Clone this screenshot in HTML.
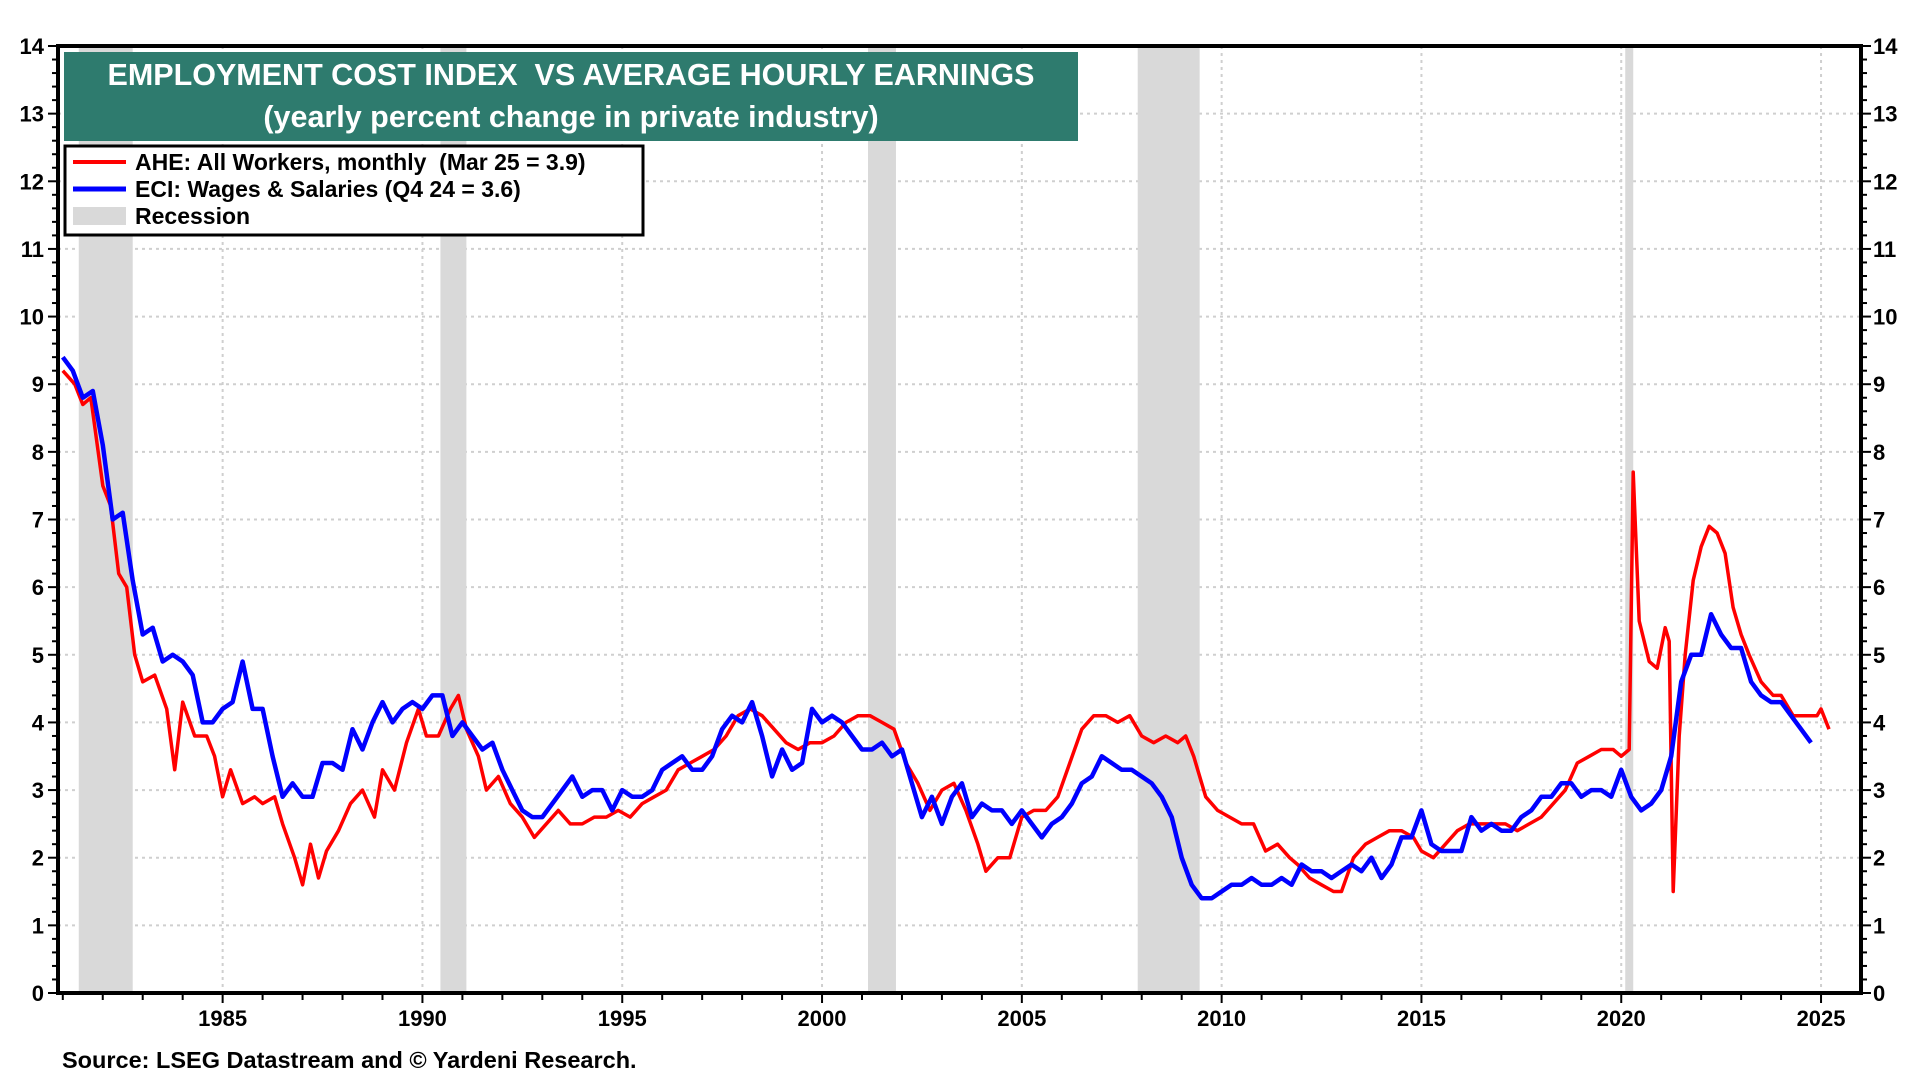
<!DOCTYPE html>
<html><head><meta charset="utf-8"><style>
html,body{margin:0;padding:0;background:#fff;}
svg{display:block;font-family:"Liberation Sans",Arial,sans-serif;}
</style></head><body>
<svg id="chart" width="1920" height="1080" viewBox="0 0 1920 1080">
<g id="grid"></g>
<g id="rec"></g>
<g id="series"></g>
<g id="axes"></g>
<g>
<rect x="64" y="52" width="1014" height="89" fill="#2e7b6e"/>
<text x="571" y="85" text-anchor="middle" font-size="30.5" font-weight="bold" fill="#fff" style="white-space:pre">EMPLOYMENT COST INDEX  VS AVERAGE HOURLY EARNINGS</text>
<text x="571" y="127" text-anchor="middle" font-size="30.5" font-weight="bold" fill="#fff">(yearly percent change in private industry)</text>
</g>
<g>
<rect x="65" y="146" width="578" height="89" fill="#fff" stroke="#000" stroke-width="3"/>
<g><line x1="73" y1="162" x2="126" y2="162" stroke="#f00" stroke-width="4"/><text x="135" y="170" font-size="23" font-weight="bold" style="white-space:pre">AHE: All Workers, monthly  (Mar 25 = 3.9)</text></g>
<g><line x1="73" y1="189" x2="126" y2="189" stroke="#00f" stroke-width="5"/><text x="135" y="197" font-size="23" font-weight="bold">ECI: Wages &amp; Salaries (Q4 24 = 3.6)</text></g>
<g><rect x="73" y="207" width="53" height="18" fill="#d9d9d9"/><text x="135" y="224" font-size="23" font-weight="bold">Recession</text></g>
</g>
<text x="62" y="1068" font-size="23.5" font-weight="bold">Source: LSEG Datastream and © Yardeni Research.</text>
</svg>
<script>
const recessions=[[1981.4,1982.75],[1990.45,1991.1],[2001.15,2001.85],[2007.9,2009.45],[2020.1,2020.3]];
const yTicks=[0,1,2,3,4,5,6,7,8,9,10,11,12,13,14];
const xTicks=[1985,1990,1995,2000,2005,2010,2015,2020,2025];
const aheX=[1981.0,1981.3,1981.5,1981.7,1982.0,1982.2,1982.4,1982.6,1982.8,1983.0,1983.3,1983.6,1983.8,1984.0,1984.3,1984.6,1984.8,1985.0,1985.2,1985.5,1985.8,1986.0,1986.3,1986.5,1986.8,1987.0,1987.2,1987.4,1987.6,1987.9,1988.2,1988.5,1988.8,1989.0,1989.3,1989.6,1989.9,1990.1,1990.4,1990.7,1990.9,1991.1,1991.4,1991.6,1991.9,1992.2,1992.5,1992.8,1993.1,1993.4,1993.7,1994.0,1994.3,1994.6,1994.9,1995.2,1995.5,1995.8,1996.1,1996.4,1996.7,1997.0,1997.3,1997.6,1997.9,1998.2,1998.5,1998.8,1999.1,1999.4,1999.7,2000.0,2000.3,2000.6,2000.9,2001.2,2001.5,2001.8,2002.1,2002.4,2002.7,2003.0,2003.3,2003.6,2003.9,2004.1,2004.4,2004.7,2005.0,2005.3,2005.6,2005.9,2006.2,2006.5,2006.8,2007.1,2007.4,2007.7,2008.0,2008.3,2008.6,2008.9,2009.1,2009.3,2009.6,2009.9,2010.2,2010.5,2010.8,2011.1,2011.4,2011.7,2011.9,2012.2,2012.5,2012.8,2013.0,2013.3,2013.6,2013.9,2014.2,2014.5,2014.8,2015.0,2015.3,2015.6,2015.9,2016.2,2016.5,2016.8,2017.1,2017.4,2017.7,2018.0,2018.3,2018.6,2018.9,2019.2,2019.5,2019.8,2020.0,2020.2,2020.3,2020.45,2020.7,2020.9,2021.1,2021.2,2021.3,2021.45,2021.6,2021.8,2022.0,2022.2,2022.4,2022.6,2022.8,2023.0,2023.2,2023.5,2023.8,2024.0,2024.3,2024.6,2024.9,2025.0,2025.2];
const aheY=[9.2,9.0,8.7,8.8,7.5,7.2,6.2,6.0,5.0,4.6,4.7,4.2,3.3,4.3,3.8,3.8,3.5,2.9,3.3,2.8,2.9,2.8,2.9,2.5,2.0,1.6,2.2,1.7,2.1,2.4,2.8,3.0,2.6,3.3,3.0,3.7,4.2,3.8,3.8,4.2,4.4,3.9,3.5,3.0,3.2,2.8,2.6,2.3,2.5,2.7,2.5,2.5,2.6,2.6,2.7,2.6,2.8,2.9,3.0,3.3,3.4,3.5,3.6,3.8,4.1,4.2,4.1,3.9,3.7,3.6,3.7,3.7,3.8,4.0,4.1,4.1,4.0,3.9,3.4,3.1,2.7,3.0,3.1,2.7,2.2,1.8,2.0,2.0,2.6,2.7,2.7,2.9,3.4,3.9,4.1,4.1,4.0,4.1,3.8,3.7,3.8,3.7,3.8,3.5,2.9,2.7,2.6,2.5,2.5,2.1,2.2,2.0,1.9,1.7,1.6,1.5,1.5,2.0,2.2,2.3,2.4,2.4,2.3,2.1,2.0,2.2,2.4,2.5,2.5,2.5,2.5,2.4,2.5,2.6,2.8,3.0,3.4,3.5,3.6,3.6,3.5,3.6,7.7,5.5,4.9,4.8,5.4,5.2,1.5,3.8,5.0,6.1,6.6,6.9,6.8,6.5,5.7,5.3,5.0,4.6,4.4,4.4,4.1,4.1,4.1,4.2,3.9];
const eciStart=1981.0;
const eciY=[9.4,9.2,8.8,8.9,8.1,7.0,7.1,6.1,5.3,5.4,4.9,5.0,4.9,4.7,4.0,4.0,4.2,4.3,4.9,4.2,4.2,3.5,2.9,3.1,2.9,2.9,3.4,3.4,3.3,3.9,3.6,4.0,4.3,4.0,4.2,4.3,4.2,4.4,4.4,3.8,4.0,3.8,3.6,3.7,3.3,3.0,2.7,2.6,2.6,2.8,3.0,3.2,2.9,3.0,3.0,2.7,3.0,2.9,2.9,3.0,3.3,3.4,3.5,3.3,3.3,3.5,3.9,4.1,4.0,4.3,3.8,3.2,3.6,3.3,3.4,4.2,4.0,4.1,4.0,3.8,3.6,3.6,3.7,3.5,3.6,3.1,2.6,2.9,2.5,2.9,3.1,2.6,2.8,2.7,2.7,2.5,2.7,2.5,2.3,2.5,2.6,2.8,3.1,3.2,3.5,3.4,3.3,3.3,3.2,3.1,2.9,2.6,2.0,1.6,1.4,1.4,1.5,1.6,1.6,1.7,1.6,1.6,1.7,1.6,1.9,1.8,1.8,1.7,1.8,1.9,1.8,2.0,1.7,1.9,2.3,2.3,2.7,2.2,2.1,2.1,2.1,2.6,2.4,2.5,2.4,2.4,2.6,2.7,2.9,2.9,3.1,3.1,2.9,3.0,3.0,2.9,3.3,2.9,2.7,2.8,3.0,3.5,4.6,5.0,5.0,5.6,5.3,5.1,5.1,4.6,4.4,4.3,4.3,4.1,3.9,3.7];

const L=58,R=1861,T=46,B=993,X0=1980.88,X1=2026.0,YMAX=14;
const sx=v=>L+(v-X0)/(X1-X0)*(R-L);
const sy=v=>B-v/YMAX*(B-T);
const NS='http://www.w3.org/2000/svg';
function mk(tag,attrs,parent){const e=document.createElementNS(NS,tag);for(const k in attrs)e.setAttribute(k,attrs[k]);parent.appendChild(e);return e;}
const grid=document.getElementById('grid'),rec=document.getElementById('rec'),ser=document.getElementById('series'),ax=document.getElementById('axes');
yTicks.forEach(v=>{if(v>0&&v<YMAX){const l=mk('line',{x1:L,x2:R,y1:sy(v),y2:sy(v),stroke:'#cfcfcf','stroke-width':2,'stroke-dasharray':'3,4'},grid);

}});
xTicks.forEach(v=>{const l=mk('line',{x1:sx(v),x2:sx(v),y1:T,y2:B,stroke:'#cfcfcf','stroke-width':2,'stroke-dasharray':'3,4'},grid);

});
recessions.forEach(r=>{const e=mk('rect',{x:sx(r[0]),y:T,width:sx(r[1])-sx(r[0]),height:B-T,fill:'#d9d9d9'},rec);

});
const eciX=eciY.map((_,i)=>eciStart+i*0.25);
function line(xs,ys,color,w,name){const d=xs.map((x,i)=>(i?'L':'M')+sx(x).toFixed(1)+','+sy(ys[i]).toFixed(1)).join('');
const p=mk('path',{d:d,fill:'none',stroke:color,'stroke-width':w,'stroke-linejoin':'round'},ser);

}
line(aheX,aheY,'#f00',3.5,'ahe-line');
line(eciX,eciY,'#00f',4.5,'eci-line');
mk('rect',{x:L,y:T,width:R-L,height:B-T,fill:'none',stroke:'#000','stroke-width':4},ax);
for(let v=0;v<=YMAX+0.001;v+=0.2){const major=Math.abs(v-Math.round(v))<0.01;const len=major?10:6;
mk('line',{x1:L-len,x2:L,y1:sy(v),y2:sy(v),stroke:'#000','stroke-width':2},ax);
mk('line',{x1:R,x2:R+len,y1:sy(v),y2:sy(v),stroke:'#000','stroke-width':2},ax);}
yTicks.forEach(v=>{const a=mk('text',{x:L-14,y:sy(v)+8,'text-anchor':'end','font-size':22,'font-weight':'bold'},ax);a.textContent=v;


const b=mk('text',{x:R+12,y:sy(v)+8,'text-anchor':'start','font-size':22,'font-weight':'bold'},ax);b.textContent=v;

});
for(let yr=1981;yr<=2025;yr++){mk('line',{x1:sx(yr),x2:sx(yr),y1:B,y2:B+(yr%5===0?10:7),stroke:'#000','stroke-width':2},ax);}
xTicks.forEach(v=>{const t=mk('text',{x:sx(v),y:B+33,'text-anchor':'middle','font-size':22,'font-weight':'bold'},ax);t.textContent=v;

});
</script>
</body></html>
